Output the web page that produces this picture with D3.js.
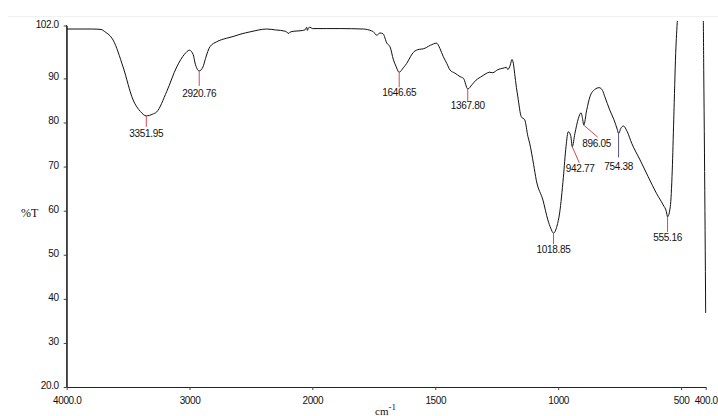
<!DOCTYPE html>
<html lang="en">
  <head>
    <meta charset="UTF-8" />
    <title>FTIR spectrum</title>
    <script src="https://d3js.org/d3.v7.min.js"></script>
    <style>
      body {
        margin: 0;
        background: #fff;
      }
      .tick text {
        font-family: "Liberation Sans", Arial, sans-serif;
        font-size: 10px;
        letter-spacing: -0.4px;
        fill: #111;
      }
      .peak-label {
        font-family: "Liberation Sans", Arial, sans-serif;
        font-size: 10px;
        letter-spacing: -0.3px;
        fill: #111;
      }
      .axis-title {
        font-family: "Liberation Serif", "Times New Roman", serif;
        font-size: 11px;
        fill: #111;
      }
    </style>
  </head>
  <body>
    <div id="chart"></div>
    <script>
      const width = 718,
        height = 416;

      // spectrum (wavenumber in cm-1, %T)
      const wavenumber = [
        4000, 3900, 3800, 3720, 3690, 3622, 3541, 3459, 3400, 3352, 3300, 3267,
        3186, 3104, 3040, 3000, 2970, 2955, 2921, 2890, 2870, 2833, 2779, 2700,
        2645, 2589, 2500, 2371, 2300, 2220, 2190, 2181, 2150, 2100, 2060, 2046,
        2040, 2030, 2019, 2000, 1941, 1887, 1793, 1760, 1752, 1738, 1725, 1712,
        1697, 1684, 1670, 1660, 1646.65, 1630, 1616, 1600, 1589, 1565, 1549,
        1520, 1494, 1488, 1481, 1467, 1453, 1440, 1420, 1399, 1385, 1367.8,
        1350, 1334, 1310, 1293, 1280, 1266, 1245, 1225, 1210, 1205, 1195, 1188,
        1182, 1177, 1170, 1164, 1150, 1136, 1123, 1116, 1100, 1089, 1062, 1042,
        1030, 1018.85, 1005, 994, 979, 968, 959, 949, 942.77, 932, 918, 907,
        900, 896.05, 884, 871, 851, 833, 820, 810, 790, 773, 760, 754.38, 745,
        735, 719, 701, 667, 634, 600, 573, 560, 555.16, 544, 536, 530, 522, 515,
        500, 420, 410, 408, 405, 400,
      ];
      const transmittance = [
        101.2, 101.2, 101.2, 101.1, 100.6, 98.7, 92.6, 85.1, 82.5, 81.5, 81.9,
        82.4, 87.0, 92.6, 95.5, 96.4, 95.4, 93.5, 91.7, 92.6, 94.5, 97.2, 98.3,
        99.1, 99.5, 100.0, 100.6, 101.2, 101.0, 100.7, 100.2, 100.5, 100.7,
        100.8, 101.0, 101.6, 100.9, 101.5, 101.6, 101.3, 101.3, 101.3, 101.2,
        100.8, 100.6, 99.8, 100.3, 100.1, 98.0, 97.2, 94.2, 92.8, 91.4, 92.4,
        93.4, 95.0, 95.9, 96.6, 96.7, 97.5, 98.0, 97.6, 96.8, 94.9, 93.4, 91.9,
        91.2, 90.4, 90.0, 87.6, 88.6, 89.6, 90.5, 91.1, 91.4, 91.3, 92.0, 92.3,
        92.5, 92.0, 93.0, 94.3, 93.3, 91.1, 88.0, 85.8, 81.3, 80.6, 76.8, 75.3,
        70.5, 66.9, 62.4, 57.9, 56.0, 54.9, 56.5, 59.5, 67.5, 74.6, 77.9, 77.0,
        74.5, 77.5, 80.9, 82.2, 80.6, 79.4, 82.8, 85.8, 87.5, 87.9, 87.3, 85.8,
        82.8, 80.6, 78.5, 77.5, 78.7, 79.2, 77.9, 75.3, 71.5, 67.7, 63.9, 61.3,
        59.8, 58.6, 60.9, 69.2, 80.6, 95.7, 103.5, 115, 115, 104, 92.0, 73.1,
        36.8,
      ];

      // labelled peaks
      const peakWavenumbers = [
        3351.95, 2920.76, 1646.65, 1367.8, 1018.85, 942.77, 896.05, 754.38,
        555.16,
      ];
      const peakTransmittance = [81.5, 91.7, 91.4, 87.6, 54.9, 74.5, 79.4, 77.5, 58.6];
      const peakLabels = [
        "3351.95", "2920.76", "1646.65", "1367.80", "1018.85", "942.77",
        "896.05", "754.38", "555.16",
      ];

      // axis ticks
      const xTickValues = [4000, 3000, 2000, 1500, 1000, 500, 400];
      const xTickLabels = ["4000.0", "3000", "2000", "1500", "1000", "500", "400.0"];
      const yTickValues = [102, 90, 80, 70, 60, 50, 40, 30, 20];
      const yTickLabels = ["102.0", "90", "80", "70", "60", "50", "40", "30", "20.0"];

      const svg = d3
        .select("#chart")
        .append("svg")
        .attr("width", width)
        .attr("height", height);

      // axis is compressed above 2000 cm-1 (half scale)
      const x = d3
        .scaleLinear()
        .domain([4000, 2000, 400])
        .range([66.7, 312.3, 705.7]);
      const y = d3.scaleLinear().domain([20, 102]).range([387, 25.5]);

      // faint frame line on top
      svg
        .append("line")
        .attr("x1", 8)
        .attr("x2", width)
        .attr("y1", 16.5)
        .attr("y2", 16.5)
        .attr("stroke", "#f1f1f1");

      svg
        .append("defs")
        .append("clipPath")
        .attr("id", "plot-clip")
        .append("rect")
        .attr("x", x(4000))
        .attr("y", 21)
        .attr("width", x(400) - x(4000) + 1)
        .attr("height", 387 - 21);

      // axes
      const xAxis = svg
        .append("g")
        .attr("transform", `translate(0,${y(20)})`)
        .call(
          d3
            .axisBottom(x)
            .tickValues(xTickValues)
            .tickFormat((d, i) => xTickLabels[i])
            .tickSize(3)
            .tickSizeOuter(0)
        );
      xAxis.selectAll("text").attr("y", 10);

      const yAxis = svg
        .append("g")
        .attr("transform", `translate(${x(4000)},0)`)
        .call(
          d3
            .axisLeft(y)
            .tickValues(yTickValues)
            .tickFormat((d, i) => yTickLabels[i])
            .tickSize(3)
            .tickSizeOuter(0)
        );
      yAxis.selectAll("text").attr("x", -8).attr("dy", "0.15em");

      svg.selectAll(".domain").attr("stroke", "#222");
      svg.selectAll(".tick line").attr("stroke", "#444");

      // y axis line goes up to the top of the plot
      svg
        .append("line")
        .attr("x1", x(4000))
        .attr("x2", x(4000))
        .attr("y1", 25)
        .attr("y2", y(20))
        .attr("stroke", "#222");

      // axis titles
      svg
        .append("text")
        .attr("class", "axis-title")
        .attr("x", 21)
        .attr("y", 217)
        .style("font-size", "12px")
        .text("%T");

      const xTitle = svg
        .append("text")
        .attr("class", "axis-title")
        .attr("x", 375)
        .attr("y", 415);
      xTitle.append("tspan").text("cm");
      xTitle
        .append("tspan")
        .attr("dy", -5)
        .attr("font-size", "9px")
        .text("-1");

      // spectrum
      const points = wavenumber.map((w, i) => [w, transmittance[i]]);
      const line = d3
        .line()
        .x((d) => x(d[0]))
        .y((d) => y(d[1]))
        .curve(d3.curveMonotoneX);

      svg
        .append("path")
        .datum(points)
        .attr("clip-path", "url(#plot-clip)")
        .attr("fill", "none")
        .attr("stroke", "#111")
        .attr("stroke-width", 1)
        .attr("d", line);

      // peak markers: [line end dx, line end dy, text dx, text baseline dy]
      const markerLayout = [
        [0, 11, 0, 21],
        [0, 15, 0, 26],
        [0, 15, 0, 24],
        [0, 12, 0, 20],
        [0, 11, 0, 20],
        [7, 16, 8, 25],
        [14, 12, 13, 22],
        [0, 24, 0, 36],
        [0, 15, 0, 24],
      ];

      peakWavenumbers.forEach((w, i) => {
        const px = x(w),
          py = y(peakTransmittance[i]);
        const m = markerLayout[i];
        svg
          .append("line")
          .attr("x1", px)
          .attr("y1", py)
          .attr("x2", px + m[0])
          .attr("y2", py + m[1])
          .attr("stroke", peakLabels[i] === "754.38" ? "#55559a" : "#d9474f")
          .attr("stroke-width", 1);
        svg
          .append("text")
          .attr("class", "peak-label")
          .attr("x", px + m[2])
          .attr("y", py + m[3])
          .attr("text-anchor", "middle")
          .text(peakLabels[i]);
      });
    </script>
  </body>
</html>
